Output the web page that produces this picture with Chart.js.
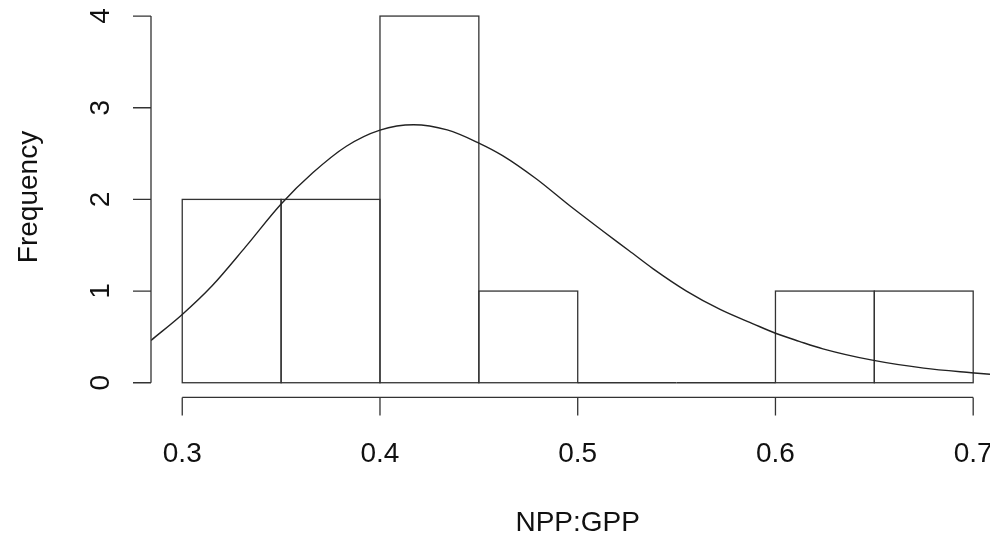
<!DOCTYPE html>
<html lang="en">
<head>
  <meta charset="UTF-8">
  <title>NPP:GPP histogram</title>
  <style>
    body {
      margin: 0;
      padding: 0;
      background: #fff;
    }
    canvas {
      display: block;
    }
  </style>
  <script src="https://cdn.jsdelivr.net/npm/chart.js"></script>
</head>
<body>
  <canvas id="histChart" width="990" height="535"></canvas>
  <script>
    // histogram bins and counts
    const breaks = [0.3, 0.35, 0.4, 0.45, 0.5, 0.55, 0.6, 0.65, 0.7];
    const counts = [2, 2, 4, 1, 0, 0, 1, 1];

    // fitted curve
    const curveX = [0.2842, 0.3, 0.315, 0.332, 0.35, 0.366, 0.383, 0.4, 0.417, 0.434,
                    0.45, 0.462, 0.479, 0.496, 0.513, 0.526, 0.538, 0.555, 0.572, 0.589,
                    0.6, 0.612, 0.624, 0.649, 0.675, 0.699, 0.7085];
    const curveY = [0.462, 0.745, 1.055, 1.482, 1.95, 2.29, 2.58, 2.756, 2.815, 2.758,
                    2.615, 2.478, 2.225, 1.93, 1.65, 1.44, 1.245, 1.0, 0.80, 0.64,
                    0.54, 0.452, 0.37, 0.246, 0.159, 0.109, 0.092];

    // axes
    const xTicks = [0.3, 0.4, 0.5, 0.6, 0.7];
    const xTickLabels = ['0.3', '0.4', '0.5', '0.6', '0.7'];
    const yTicks = [0, 1, 2, 3, 4];
    const yTickLabels = ['0', '1', '2', '3', '4'];
    const xTitle = 'NPP:GPP';
    const yTitle = 'Frequency';

    const FONT = '28px "Liberation Sans", Arial, sans-serif';
    const INK = '#333';

    const histData = counts.map((c, i) => ({ x: (breaks[i] + breaks[i + 1]) / 2, y: c }));
    const curveData = curveX.map((x, i) => ({ x: x, y: curveY[i] }));

    // outline the histogram bars (zero bins still show as a line at 0)
    const barOutline = {
      id: 'barOutline',
      beforeDatasetsDraw(chart) {
        const ctx = chart.ctx;
        const meta = chart.getDatasetMeta(0);
        ctx.save();
        ctx.strokeStyle = INK;
        ctx.lineWidth = 1.3;
        meta.data.forEach(bar => {
          const p = bar.getProps(['x', 'y', 'base', 'width'], true);
          ctx.strokeRect(p.x - p.width / 2, p.y, p.width, p.base - p.y);
        });
        ctx.restore();
      }
    };

    // R style axes drawn from the chart scales
    const rAxes = {
      id: 'rAxes',
      afterDraw(chart) {
        const ctx = chart.ctx;
        const xs = chart.scales.x;
        const ys = chart.scales.y;
        const area = chart.chartArea;
        ctx.save();
        ctx.strokeStyle = INK;
        ctx.lineWidth = 1.3;
        ctx.fillStyle = '#111';
        ctx.font = FONT;

        // x axis
        const axY = area.bottom;
        ctx.beginPath();
        ctx.moveTo(xs.getPixelForValue(xTicks[0]), axY);
        ctx.lineTo(xs.getPixelForValue(xTicks[xTicks.length - 1]), axY);
        xTicks.forEach(v => {
          const px = xs.getPixelForValue(v);
          ctx.moveTo(px, axY);
          ctx.lineTo(px, axY + 18);
        });
        ctx.stroke();
        ctx.textAlign = 'center';
        ctx.textBaseline = 'alphabetic';
        xTicks.forEach((v, i) => {
          ctx.fillText(xTickLabels[i], xs.getPixelForValue(v), 461.5);
        });
        ctx.fillText(xTitle, xs.getPixelForValue(0.5), 530.5);

        // y axis
        const axX = area.left;
        ctx.beginPath();
        ctx.moveTo(axX, ys.getPixelForValue(yTicks[0]));
        ctx.lineTo(axX, ys.getPixelForValue(yTicks[yTicks.length - 1]));
        yTicks.forEach(v => {
          const py = ys.getPixelForValue(v);
          ctx.moveTo(axX, py);
          ctx.lineTo(axX - 18, py);
        });
        ctx.stroke();
        yTicks.forEach((v, i) => {
          ctx.save();
          ctx.translate(108.5, ys.getPixelForValue(v));
          ctx.rotate(-Math.PI / 2);
          ctx.fillText(yTickLabels[i], 0, 0);
          ctx.restore();
        });
        ctx.save();
        ctx.translate(36.5, 197);
        ctx.rotate(-Math.PI / 2);
        ctx.fillText(yTitle, 0, 0);
        ctx.restore();

        ctx.restore();
      }
    };

    new Chart(document.getElementById('histChart'), {
      type: 'bar',
      data: {
        datasets: [
          {
            type: 'bar',
            data: histData,
            backgroundColor: 'rgba(255,255,255,0)',
            borderWidth: 0,
            barPercentage: 1,
            categoryPercentage: 1
          },
          {
            type: 'line',
            data: curveData,
            borderColor: '#222',
            borderWidth: 1.4,
            pointRadius: 0,
            cubicInterpolationMode: 'monotone'
          }
        ]
      },
      options: {
        responsive: false,
        animation: false,
        devicePixelRatio: 1,
        layout: {
          padding: { left: 151, top: 1.4, right: 0, bottom: 137.6 }
        },
        plugins: {
          legend: { display: false },
          tooltip: { enabled: false }
        },
        scales: {
          x: {
            type: 'linear',
            display: false,
            offset: false,
            min: 0.2842,
            max: 0.7085,
            ticks: { stepSize: 0.05, includeBounds: false }
          },
          y: {
            display: false,
            min: -0.16,
            max: 4.16
          }
        }
      },
      plugins: [barOutline, rAxes]
    });
  </script>
</body>
</html>
